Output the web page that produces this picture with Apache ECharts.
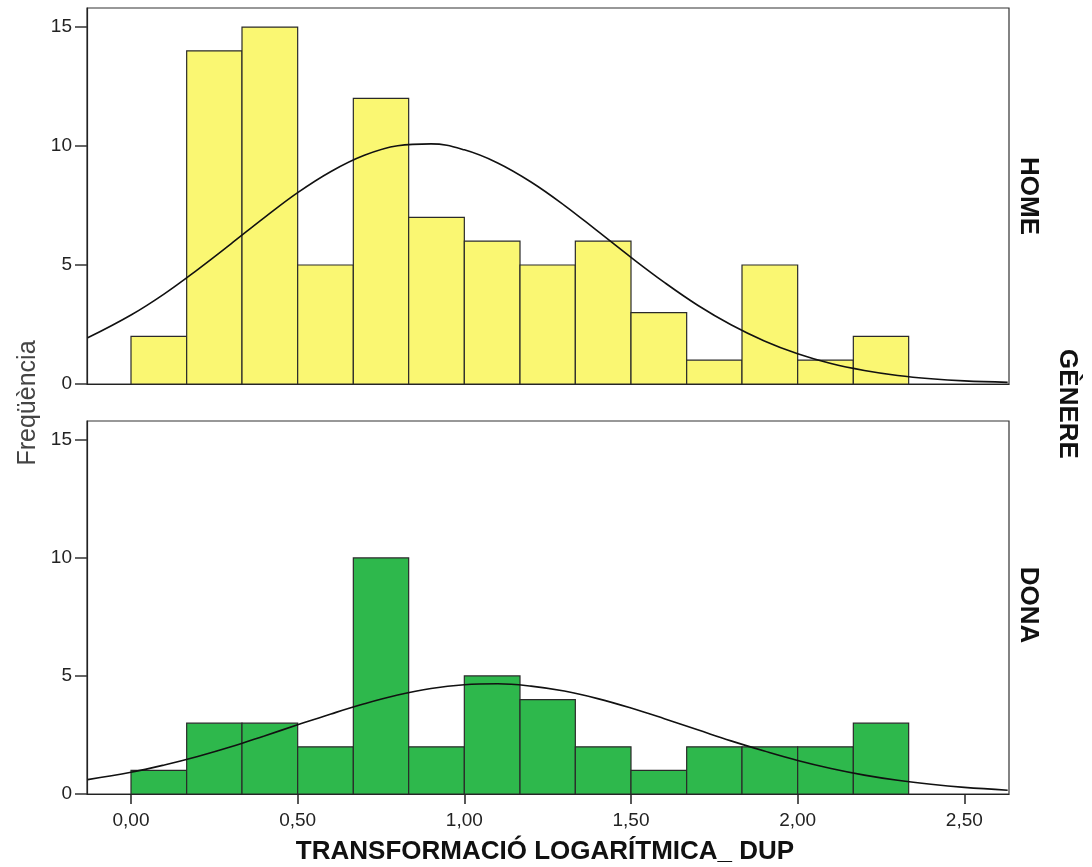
<!DOCTYPE html>
<html>
<head>
<meta charset="utf-8">
<script src="https://cdn.jsdelivr.net/npm/echarts@6/dist/echarts.min.js"></script>
<style>
html,body{margin:0;padding:0;background:#fff;}
#chart{width:1092px;height:867px;}
</style>
</head>
<body>
<div id="chart"></div>
<script>
// ---- DATA ----
const binStarts = [0, 0.167, 0.333, 0.5, 0.667, 0.833, 1.0, 1.167, 1.333, 1.5, 1.667, 1.833, 2.0, 2.167];
const binEnds   = [0.167, 0.333, 0.5, 0.667, 0.833, 1.0, 1.167, 1.333, 1.5, 1.667, 1.833, 2.0, 2.167, 2.333];
const homeCounts = [2, 14, 15, 5, 12, 7, 6, 5, 6, 3, 1, 5, 1, 2];
const donaCounts = [1, 3, 3, 2, 10, 2, 5, 4, 2, 1, 2, 2, 2, 3];
const curveX = [-0.13, 0, 0.1, 0.2, 0.3, 0.4, 0.5, 0.6, 0.7, 0.8, 0.9, 1.0, 1.1, 1.2, 1.3, 1.4, 1.5, 1.6, 1.7, 1.8, 1.9, 2.0, 2.1, 2.2, 2.3, 2.4, 2.5, 2.63];
const homeCurve = [1.94, 2.90, 3.79, 4.81, 5.89, 6.99, 8.04, 8.93, 9.61, 10.01, 10.09, 9.84, 9.29, 8.49, 7.51, 6.42, 5.32, 4.27, 3.31, 2.49, 1.81, 1.27, 0.86, 0.57, 0.36, 0.22, 0.13, 0.07];
const donaCurve = [0.61, 0.92, 1.23, 1.59, 2.00, 2.46, 2.93, 3.39, 3.82, 4.19, 4.47, 4.63, 4.67, 4.57, 4.36, 4.04, 3.64, 3.19, 2.72, 2.25, 1.82, 1.42, 1.08, 0.80, 0.58, 0.41, 0.28, 0.16];
const xTicks = [0, 0.5, 1.0, 1.5, 2.0, 2.5];
const yTicks = [0, 5, 10, 15];
const panelNames = ['HOME', 'DONA'];
const xTitle = 'TRANSFORMACIÓ LOGARÍTMICA_ DUP';
const yTitle = 'Freqüència';
const groupTitle = 'GÈNERE';

// ---- CHART ----
const FONT = '"Liberation Sans", Arial, sans-serif';
const chart = echarts.init(document.getElementById('chart'), null, {renderer: 'canvas'});

function histData(counts) {
  return counts.map((c, i) => [binStarts[i], binEnds[i], c]);
}
function curveData(vals) {
  return vals.map((v, i) => [curveX[i], v]);
}
function renderBar(fill) {
  return function (params, api) {
    const p0 = api.coord([api.value(0), api.value(2)]);
    const p1 = api.coord([api.value(1), 0]);
    return {
      type: 'rect',
      shape: {x: p0[0], y: p0[1], width: p1[0] - p0[0], height: p1[1] - p0[1]},
      style: {fill: fill, stroke: '#2a2a2a', lineWidth: 1.2}
    };
  };
}
function xAxisCfg(idx, showLabels) {
  return {
    type: 'value', gridIndex: idx, min: -0.132, max: 2.634,
    splitLine: {show: false},
    axisLine: {show: true, onZero: false, lineStyle: {color: '#222', width: 1.2}},
    axisTick: {show: showLabels, length: 10, lineStyle: {color: '#222', width: 1.5}, customValues: xTicks},
    axisLabel: {show: showLabels, customValues: xTicks, margin: 17, fontFamily: FONT, fontSize: 19, color: '#222',
      formatter: v => v.toFixed(2).replace('.', ',')}
  };
}
function yAxisCfg(idx) {
  return {
    type: 'value', gridIndex: idx, min: 0, max: 15.8,
    splitLine: {show: false},
    axisLine: {show: true, onZero: false, lineStyle: {color: '#222', width: 1.2}},
    axisTick: {show: true, length: 12, lineStyle: {color: '#333', width: 1.5}, customValues: yTicks},
    axisLabel: {customValues: yTicks, margin: 15, fontFamily: FONT, fontSize: 19, color: '#222'}
  };
}

const option = {
  animation: false,
  backgroundColor: '#fff',
  grid: [
    {left: 87, right: 83, top: 8, height: 376, show: true, borderColor: '#333', borderWidth: 1.2, backgroundColor: 'transparent'},
    {left: 87, right: 83, top: 421, height: 373, show: true, borderColor: '#333', borderWidth: 1.2, backgroundColor: 'transparent'}
  ],
  xAxis: [xAxisCfg(0, false), xAxisCfg(1, true)],
  yAxis: [yAxisCfg(0), yAxisCfg(1)],
  series: [
    {type: 'custom', xAxisIndex: 0, yAxisIndex: 0, renderItem: renderBar('#FAF772'), encode: {x: [0, 1], y: 2}, data: histData(homeCounts)},
    {type: 'custom', xAxisIndex: 1, yAxisIndex: 1, renderItem: renderBar('#2EB84C'), encode: {x: [0, 1], y: 2}, data: histData(donaCounts)},
    {type: 'line', xAxisIndex: 0, yAxisIndex: 0, smooth: 0.4, symbol: 'none', lineStyle: {color: '#111', width: 1.6}, data: curveData(homeCurve), z: 5},
    {type: 'line', xAxisIndex: 1, yAxisIndex: 1, smooth: 0.4, symbol: 'none', lineStyle: {color: '#111', width: 1.6}, data: curveData(donaCurve), z: 5}
  ],
  graphic: [
    {type: 'text', x: 1028, y: 196, rotation: -Math.PI / 2,
      style: {text: panelNames[0], font: 'bold 26px ' + FONT, fill: '#111', align: 'center', verticalAlign: 'middle'}},
    {type: 'text', x: 1028, y: 605, rotation: -Math.PI / 2,
      style: {text: panelNames[1], font: 'bold 26px ' + FONT, fill: '#111', align: 'center', verticalAlign: 'middle'}},
    {type: 'text', x: 1067, y: 404, rotation: -Math.PI / 2,
      style: {text: groupTitle, font: 'bold 26px ' + FONT, fill: '#111', align: 'center', verticalAlign: 'middle'}},
    {type: 'text', x: 28, y: 403, rotation: Math.PI / 2,
      style: {text: yTitle, font: '25px ' + FONT, fill: '#444', align: 'center', verticalAlign: 'middle'}},
    {type: 'text', x: 545, y: 852,
      style: {text: xTitle, font: 'bold 26px ' + FONT, fill: '#111', align: 'center', verticalAlign: 'middle'}}
  ]
};
chart.setOption(option);
</script>
</body>
</html>
